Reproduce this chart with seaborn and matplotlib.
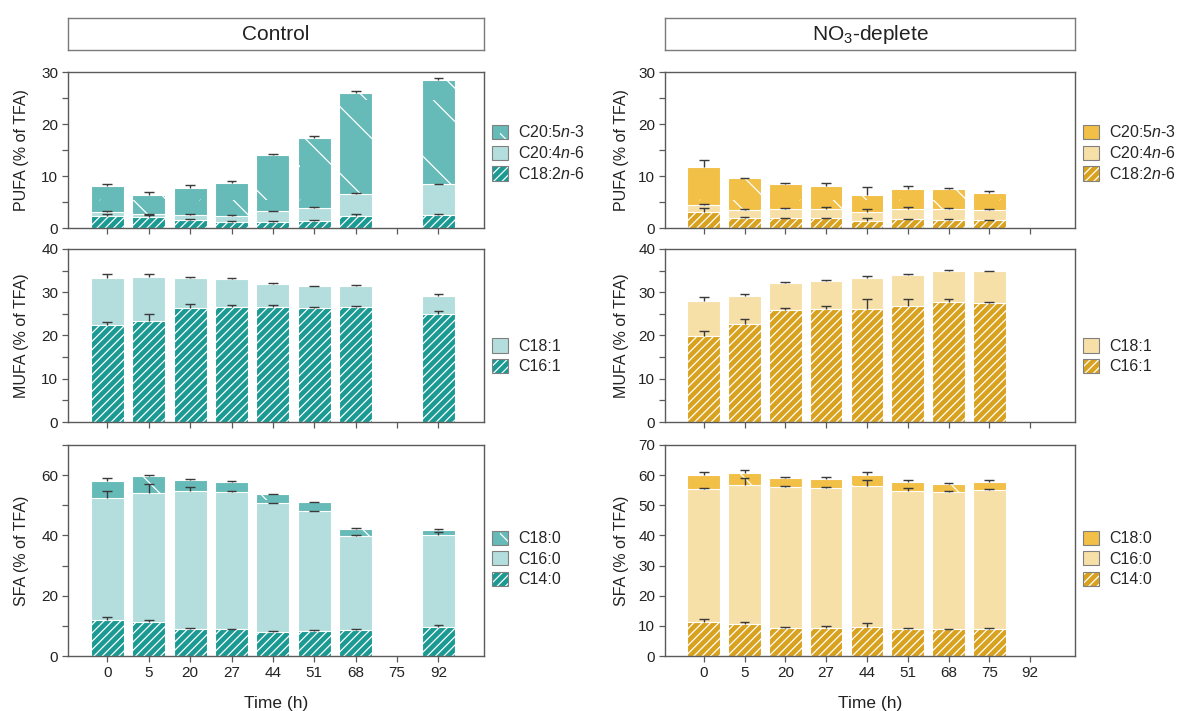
import numpy as np
import pandas as pd
import matplotlib
matplotlib.use("Agg")
import matplotlib.pyplot as plt
import seaborn as sns
from matplotlib.patches import Patch
from matplotlib.path import Path
from matplotlib.backend_bases import GraphicsContextBase
from matplotlib.ticker import MultipleLocator

# ---------------- data ----------------
times = ["0", "5", "20", "27", "44", "51", "68", "75", "92"]
ctrl_times = ["0", "5", "20", "27", "44", "51", "68", "92"]
no3_times = ["0", "5", "20", "27", "44", "51", "68", "75"]

# Control (segment values, % of TFA) and upper error bars
ctrl_c182 = [2.3, 2.1, 1.5, 1.2, 1.2, 1.4, 2.4, 2.5]
ctrl_c204 = [0.8, 0.5, 1.0, 1.2, 2.0, 2.5, 4.2, 5.9]
ctrl_c205 = [4.9, 3.7, 5.2, 6.2, 10.8, 13.4, 19.3, 20.0]
ctrl_c182_err = [0.4, 0.4, 0.2, 0.1, 0.2, 0.1, 0.2, 0.2]
ctrl_c204_err = [0.2, 0.1, 0.1, 0.1, 0.1, 0.1, 0.1, 0.1]
ctrl_c205_err = [0.4, 0.7, 0.5, 0.4, 0.3, 0.4, 0.5, 0.5]

ctrl_c161 = [22.4, 23.4, 26.3, 26.5, 26.5, 26.4, 26.6, 24.9]
ctrl_c181 = [10.9, 10.1, 7.0, 6.5, 5.4, 5.0, 4.8, 4.3]
ctrl_c161_err = [0.8, 1.6, 0.9, 0.6, 0.5, 0.2, 0.3, 0.7]
ctrl_c181_err = [0.9, 0.7, 0.3, 0.2, 0.2, 0.1, 0.2, 0.3]

ctrl_c140 = [11.9, 11.2, 8.9, 8.8, 8.1, 8.3, 8.5, 9.7]
ctrl_c160 = [40.5, 43.0, 45.8, 45.7, 42.6, 39.7, 31.4, 30.4]
ctrl_c180 = [5.7, 5.5, 3.7, 3.3, 3.0, 3.0, 2.2, 1.8]
ctrl_c140_err = [1.0, 0.8, 0.3, 0.3, 0.1, 0.2, 0.4, 0.6]
ctrl_c160_err = [2.2, 2.8, 1.3, 0.4, 0.2, 0.2, 0.3, 1.2]
ctrl_c180_err = [0.9, 0.5, 0.3, 0.3, 0.1, 0.2, 0.3, 0.3]

# NO3-deplete
no3_c182 = [3.0, 2.0, 1.9, 1.9, 1.4, 1.7, 1.6, 1.5]
no3_c204 = [1.4, 1.5, 1.8, 1.8, 1.6, 2.0, 2.1, 2.0]
no3_c205 = [7.4, 6.1, 4.7, 4.3, 3.4, 3.8, 3.8, 3.3]
no3_c182_err = [0.8, 0.1, 0.1, 0.1, 0.5, 0.1, 0.1, 0.1]
no3_c204_err = [0.3, 0.1, 0.1, 0.3, 0.6, 0.3, 0.1, 0.2]
no3_c205_err = [1.2, 0.1, 0.2, 0.7, 1.4, 0.5, 0.1, 0.3]

no3_c161 = [19.8, 22.6, 26.0, 26.1, 26.1, 26.9, 27.8, 27.4]
no3_c181 = [8.1, 6.5, 6.2, 6.6, 7.2, 7.2, 7.2, 7.4]
no3_c161_err = [1.2, 1.1, 0.4, 0.8, 2.4, 1.6, 0.6, 0.3]
no3_c181_err = [1.1, 0.5, 0.1, 0.1, 0.4, 0.2, 0.1, 0.2]

no3_c140 = [11.3, 10.6, 9.2, 9.2, 9.6, 8.9, 8.8, 8.8]
no3_c160 = [44.1, 46.2, 46.8, 46.6, 46.9, 45.9, 45.6, 46.4]
no3_c180 = [4.6, 4.0, 3.0, 3.0, 3.4, 3.0, 2.6, 2.6]
no3_c140_err = [1.0, 0.6, 0.3, 0.6, 1.4, 0.3, 0.3, 0.5]
no3_c160_err = [0.2, 2.2, 0.5, 0.2, 1.9, 1.0, 0.2, 0.2]
no3_c180_err = [0.9, 0.8, 0.5, 0.6, 1.2, 0.5, 0.4, 0.5]

# ---------------- style ----------------
def _hatch_path(self, density=3.0):
    h = self.get_hatch()
    if h is None:
        return None
    return Path.hatch(h, density)
GraphicsContextBase.get_hatch_path = _hatch_path

sns.set_theme(style="ticks")
plt.rcParams["font.family"] = ["Liberation Sans", "DejaVu Sans"]
plt.rcParams["mathtext.fontset"] = "custom"
plt.rcParams["mathtext.rm"] = "Liberation Sans"
plt.rcParams["mathtext.it"] = "Liberation Sans:italic"
plt.rcParams["hatch.linewidth"] = 0.9

TEAL = ["#1a9a93", "#b3dedd", "#66bab7"]
GOLD = ["#d9a21e", "#f7e0a8", "#f2bf47"]
H_DENSE = "/" * 8
H_SPARSE = "\\"
SPINE = "#5a5a5a"
TXT = "#222222"
ERR = "#3a3a3a"

fig = plt.figure(figsize=(11.86, 7.11), dpi=100)
W, H = 1186, 711

def frac(x0, x1, ytop, ybot):
    return [x0 / W, 1 - ybot / H, (x1 - x0) / W, (ybot - ytop) / H]

col_x = [(68, 484), (665, 1075)]
row_y = [(72, 228), (249, 422), (445, 656)]


def draw_panel(ax, present, segs, ymax, major, minor, leg_y, bottom_row, ylabel, lab_x):
    tops = np.cumsum([s[1] for s in segs], axis=0)
    # draw from total down to the bottom segment (overlay stacking)
    for i in range(len(segs) - 1, -1, -1):
        name, vals, errs, color, hatch = segs[i]
        df = pd.DataFrame({"time": present, "top": tops[i]})
        sns.barplot(data=df, x="time", y="top", order=times, color=color,
                    saturation=1, width=0.8, edgecolor="white", linewidth=0.8,
                    hatch=hatch, errorbar=None, ax=ax, zorder=2)
    xpos = np.array([times.index(t) for t in present], dtype=float)
    cap = 0.12
    for i, (name, vals, errs, color, hatch) in enumerate(segs):
        hi = tops[i] + np.asarray(errs)
        ax.vlines(xpos, tops[i], hi, color=ERR, linewidth=1.0, zorder=6)
        ax.hlines(hi, xpos - cap, xpos + cap, color=ERR, linewidth=1.0, zorder=6)
    ax.set_xlim(-0.95, 9.1)
    ax.set_ylim(0, ymax)
    ax.yaxis.set_major_locator(MultipleLocator(major))
    ax.yaxis.set_minor_locator(MultipleLocator(minor))
    for sp in ax.spines.values():
        sp.set_visible(True)
        sp.set_color(SPINE)
        sp.set_linewidth(1.0)
    ax.tick_params(axis="both", which="both", direction="out", length=4,
                   width=0.9, color=SPINE, labelsize=11, labelcolor=TXT, pad=3)
    ax.tick_params(axis="x", top=False)
    ax.tick_params(axis="y", right=False)
    if bottom_row:
        ax.set_xlabel("Time (h)", fontsize=12.5, color=TXT, labelpad=12)
    else:
        ax.set_xlabel("")
        ax.tick_params(axis="x", labelbottom=False)
    ax.set_ylabel(ylabel, fontsize=11.5, color=TXT)
    ax.yaxis.set_label_coords(lab_x, 0.5)
    handles = []
    for name, vals, errs, color, hatch in reversed(segs):
        p = Patch(facecolor=color, edgecolor="#808080", hatch=hatch,
                  linewidth=0.8, label=name)
        p._hatch_color = (1, 1, 1, 1)
        handles.append(p)
    ax.legend(handles=handles, loc="center left", bbox_to_anchor=(1.02, leg_y),
              frameon=False, fontsize=11.5, handlelength=1.0, handleheight=1.0,
              handletextpad=0.6, labelspacing=0.3, borderaxespad=0, borderpad=0)


panels = {
    0: (ctrl_times, TEAL, [
        [("C18:2$n$-6", ctrl_c182, ctrl_c182_err), ("C20:4$n$-6", ctrl_c204, ctrl_c204_err),
         ("C20:5$n$-3", ctrl_c205, ctrl_c205_err)],
        [("C16:1", ctrl_c161, ctrl_c161_err), ("C18:1", ctrl_c181, ctrl_c181_err)],
        [("C14:0", ctrl_c140, ctrl_c140_err), ("C16:0", ctrl_c160, ctrl_c160_err),
         ("C18:0", ctrl_c180, ctrl_c180_err)],
    ]),
    1: (no3_times, GOLD, [
        [("C18:2$n$-6", no3_c182, no3_c182_err), ("C20:4$n$-6", no3_c204, no3_c204_err),
         ("C20:5$n$-3", no3_c205, no3_c205_err)],
        [("C16:1", no3_c161, no3_c161_err), ("C18:1", no3_c181, no3_c181_err)],
        [("C14:0", no3_c140, no3_c140_err), ("C16:0", no3_c160, no3_c160_err),
         ("C18:0", no3_c180, no3_c180_err)],
    ]),
}

row_specs = [
    ("PUFA (% of TFA)", 30, 10, 5, 0.48),
    ("MUFA (% of TFA)", 40, 10, 5, 0.38),
    ("SFA (% of TFA)", 70, 20, 10, 0.46),
]
titles = ["Control", "NO$_3$-deplete"]
label_x = [-0.094, -0.088]

for c in range(2):
    present, pal, rows = panels[c]
    x0, x1 = col_x[c]
    # strip title box
    sax = fig.add_axes(frac(x0, x1, 18, 50))
    sax.set_xticks([])
    sax.set_yticks([])
    for sp in sax.spines.values():
        sp.set_color("#7a7a7a")
        sp.set_linewidth(1.0)
    sax.text(0.5, 0.5, titles[c], ha="center", va="center", fontsize=15,
             color=TXT, transform=sax.transAxes)
    for r in range(3):
        ylab, ymax, major, minor, legy = row_specs[r]
        if c == 1 and r == 2:
            major = 10
        segdefs = rows[r]
        n = len(segdefs)
        if n == 3:
            cols = [pal[0], pal[1], pal[2]]
            hatches = [H_DENSE, None, H_SPARSE]
        else:
            cols = [pal[0], pal[1]]
            hatches = [H_DENSE, None]
        segs = [(nm, v, e, cols[k], hatches[k]) for k, (nm, v, e) in enumerate(segdefs)]
        ax = fig.add_axes(frac(x0, x1, *row_y[r]))
        draw_panel(ax, present, segs, ymax, major, minor, legy, r == 2, ylab, label_x[c])

fig.savefig("out.png", dpi=100)
